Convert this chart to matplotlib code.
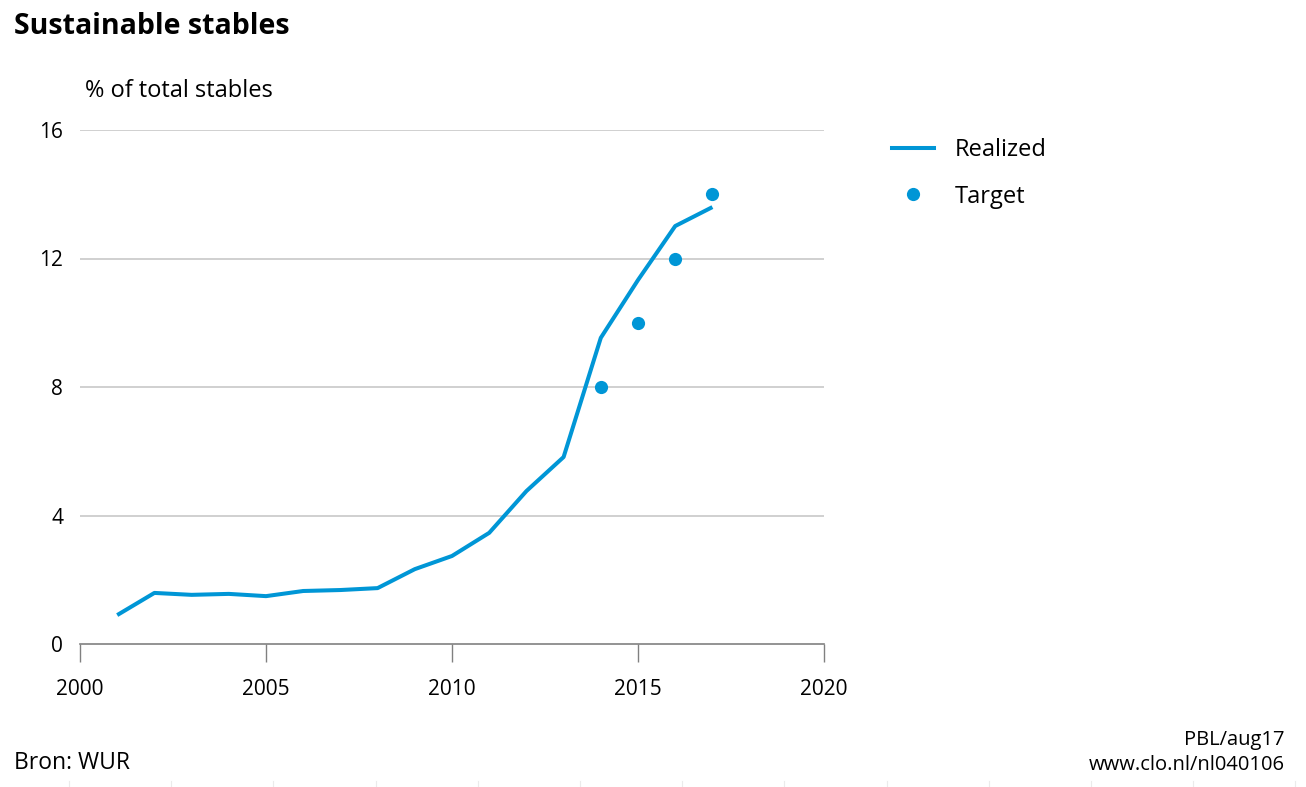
import matplotlib.pyplot as plt
from matplotlib.lines import Line2D

plt.rcParams['font.family'] = ['Open Sans', 'DejaVu Sans']

# data
years = [2001, 2002, 2003, 2004, 2005, 2006, 2007, 2008, 2009,
         2010, 2011, 2012, 2013, 2014, 2015, 2016, 2017]
realized = [0.9, 1.59, 1.53, 1.56, 1.49, 1.65, 1.68, 1.74, 2.33,
            2.74, 3.46, 4.76, 5.82, 9.53, 11.33, 13.01, 13.6]
target_years = [2014, 2015, 2016, 2017]
target = [8, 10, 12, 14]

xticks = [2000, 2005, 2010, 2015, 2020]
yticks = [0, 4, 8, 12, 16]

BLUE = '#0096d6'
W, H = 1306, 787

fig = plt.figure(figsize=(W / 100, H / 100), dpi=100)
ax = fig.add_axes([80 / W, 1 - 644 / H, (824 - 80) / W, (644 - 130) / H])

ax.plot(years, realized, color=BLUE, lw=2.9, solid_capstyle='butt', zorder=3)
ax.plot(target_years, target, 'o', color=BLUE, ms=9.5, mec='none', zorder=4)

ax.set_xlim(2000, 2020)
ax.set_ylim(0, 16)
ax.set_xticks(xticks)
ax.set_yticks(yticks)
ax.set_yticklabels([str(v) for v in yticks], fontsize=15)
ax.set_xticklabels([str(v) for v in xticks], fontsize=15)

for v in yticks[1:]:
    ax.axhline(v, color='#c8c8c8', lw=1.2, zorder=1)

for s in ['left', 'right', 'top']:
    ax.spines[s].set_visible(False)
ax.spines['bottom'].set_color('#808080')
ax.spines['bottom'].set_linewidth(1.2)
ax.tick_params(axis='x', direction='out', length=13, width=1, color='#808080', pad=12)
ax.tick_params(axis='y', length=0, pad=12)

# legend
leg_handles = [Line2D([], [], color=BLUE, lw=2.9),
               Line2D([], [], marker='o', ls='none', color=BLUE, ms=9.5, mec='none')]
fig.legend(leg_handles, ['Realized', 'Target'], loc='upper left',
           bbox_to_anchor=(871 / W, 1 - 117 / H), frameon=False, fontsize=17,
           handlelength=1.75, handletextpad=0.9, labelspacing=0.95)

# texts
fig.text(14 / W, 1 - 27 / H, 'Sustainable stables', fontsize=20.5, fontweight='bold',
         va='center', ha='left')
fig.text(85 / W, 1 - 91 / H, '% of total stables', fontsize=17, va='center', ha='left')
fig.text(14 / W, 1 - 763 / H, 'Bron: WUR', fontsize=16.5, va='center', ha='left')
fig.text(1285 / W, 1 - 740 / H, 'PBL/aug17', fontsize=14.5, va='center', ha='right')
fig.text(1285 / W, 1 - 765 / H, 'www.clo.nl/nl040106', fontsize=14.5, va='center', ha='right')

# faint marks along the bottom edge
for k in range(13):
    x = (69 + 102.2 * k) / W
    fig.add_artist(Line2D([x, x], [0, 6 / H], color='#ebebeb', lw=0.8))

fig.savefig('out.png', dpi=100)
